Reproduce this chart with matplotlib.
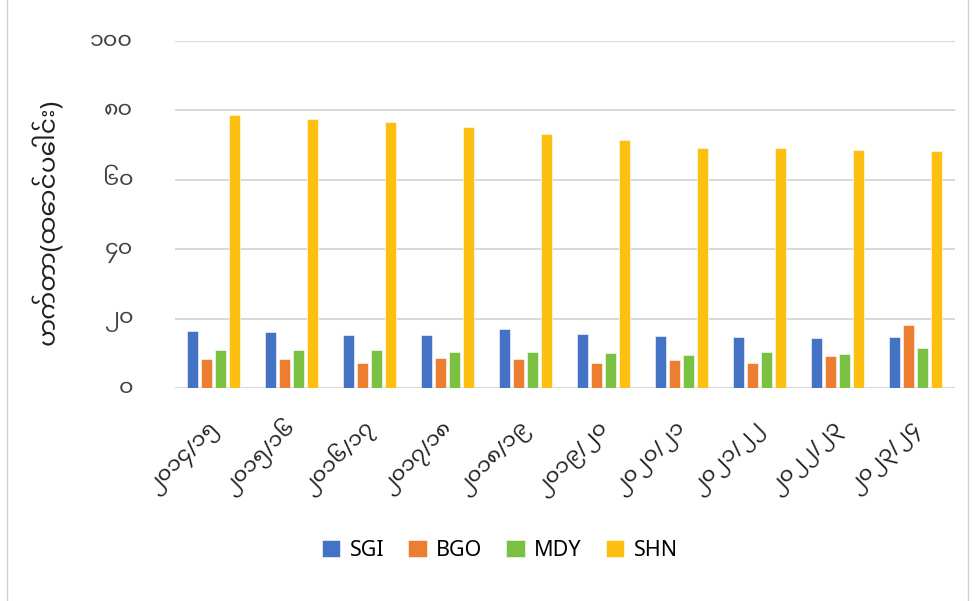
import matplotlib
matplotlib.use('Agg')
import matplotlib.pyplot as plt
import numpy as np
from matplotlib.patches import Rectangle

# ရာသီနှစ်များ
years = ['၂၀၁၄/၁၅', '၂၀၁၅/၁၆', '၂၀၁၆/၁၇', '၂၀၁၇/၁၈', '၂၀၁၈/၁၉',
         '၂၀၁၉/၂၀', '၂၀၂၀/၂၁', '၂၀၂၁/၂၂', '၂၀၂၂/၂၃', '၂၀၂၃/၂၄']
sgi = [16.6, 16.2, 15.4, 15.4, 17.1, 15.7, 15.0, 14.8, 14.4, 14.7]
bgo = [8.5, 8.5, 7.2, 8.8, 8.3, 7.4, 8.0, 7.2, 9.2, 18.2]
mdy = [11.0, 11.0, 11.0, 10.4, 10.4, 10.2, 9.7, 10.4, 10.0, 11.5]
shn = [78.8, 77.6, 76.6, 75.1, 73.3, 71.6, 69.1, 69.1, 68.7, 68.2]
yticks = [0, 20, 40, 60, 80, 100]
ytick_labels = ['၀', '၂၀', '၄၀', '၆၀', '၈၀', '၁၀၀']
ylabel = 'ဟက်တာ(ထောင်ပေါင်း)'

# Latin text in Noto Sans, Myanmar glyphs fall back to Noto Sans Myanmar UI
plt.rcParams['font.family'] = ['Noto Sans', 'Noto Sans Myanmar UI', 'DejaVu Sans']

fig = plt.figure(figsize=(9.76, 6.01), dpi=100)
ax = fig.add_axes([0.179, 0.354, 0.799, 0.578])

colors = ['#4472c4', '#ed7d31', '#7ac143', '#fdc010']
series = [('SGI', sgi), ('BGO', bgo), ('MDY', mdy), ('SHN', shn)]
x = np.arange(len(years))
step = 0.18
width = 0.137
for i, (name, vals) in enumerate(series):
    ax.bar(x + (i - 1.5) * step, vals, width, color=colors[i], label=name,
           edgecolor='white', linewidth=0.4, zorder=3)

ax.set_xlim(-0.5, len(years) - 0.5)
ax.set_ylim(0, 100)
ax.set_yticks(yticks)
ax.set_yticklabels(ytick_labels, fontsize=16, color='#404040')
# ticks are hidden; nudge them right so the rotated label ends just past the group centre
ax.set_xticks(x + 0.08)
ax.set_xticklabels(years, rotation=45, ha='right', va='baseline', rotation_mode='anchor',
                   fontsize=15.5, color='#202020')
ax.tick_params(length=0)
ax.tick_params(axis='x', pad=30)
ax.tick_params(axis='y', pad=30)
ax.grid(axis='y', color='#d9d9d9', linewidth=1.5, zorder=0)
for s in ax.spines.values():
    s.set_visible(False)
ax.set_ylabel(ylabel, fontsize=18, color='#202020')
ax.yaxis.set_label_coords(-0.142, 0.48)

ax.legend(loc='center', bbox_to_anchor=(0.417, -0.467), ncol=4, frameon=False,
          fontsize=15.5, handlelength=0.85, handleheight=0.85, columnspacing=1.1,
          handletextpad=0.45)

fig.patches.append(Rectangle((0.007, -0.01), 0.985, 1.02, transform=fig.transFigure,
                             fill=False, edgecolor='#d0d0d0', linewidth=1))

fig.savefig('out.png', dpi=100)
